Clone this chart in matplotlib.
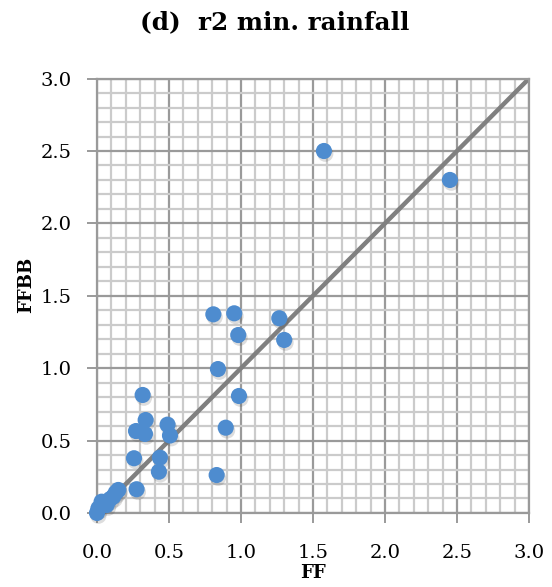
import numpy as np
import matplotlib
matplotlib.use("Agg")
import matplotlib.pyplot as plt
import matplotlib.patheffects as pe

# FF vs FFBB, r2 min. rainfall
ff = [1.576, 2.451, 0.808, 0.953, 0.981, 1.266, 1.300, 0.840, 0.986, 0.317,
      0.894, 0.831, 0.338, 0.271, 0.333, 0.490, 0.507, 0.257, 0.437, 0.430,
      0.275, 0.148, 0.113, 0.067, 0.032, 0.010, 0.000, 0.090, 0.130]
ffbb = [2.500, 2.300, 1.372, 1.379, 1.229, 1.345, 1.195, 0.994, 0.808, 0.815,
        0.589, 0.262, 0.642, 0.566, 0.546, 0.610, 0.535, 0.378, 0.382, 0.285,
        0.164, 0.159, 0.113, 0.055, 0.078, 0.032, 0.000, 0.095, 0.140]
title = "(d)  r2 min. rainfall"
xlabel = "FF"
ylabel = "FFBB"

plt.rcParams['font.family'] = ['DejaVu Serif']

fig = plt.figure(figsize=(5.52, 5.87), dpi=100)
ax = fig.add_axes([0.1757, 0.1261, 0.7826, 0.740])

ax.set_xlim(0, 3)
ax.set_ylim(0, 3)
ax.set_xticks(np.arange(0, 3.01, 0.5))
ax.set_yticks(np.arange(0, 3.01, 0.5))
ax.set_xticks(np.arange(0, 3.01, 0.1), minor=True)
ax.set_yticks(np.arange(0, 3.01, 0.1), minor=True)
ax.set_xticklabels(["%.1f" % v for v in np.arange(0, 3.01, 0.5)])
ax.set_yticklabels(["%.1f" % v for v in np.arange(0, 3.01, 0.5)])

ax.grid(which="minor", color="#cbcbcb", linewidth=1.6)
ax.grid(which="major", color="#9a9a9a", linewidth=1.6)
ax.set_axisbelow(True)

for s in ax.spines.values():
    s.set_color("#9a9a9a")
    s.set_linewidth(1.6)

ax.tick_params(which="major", direction="out", length=7.5, width=1.4,
               color="#9a9a9a", labelsize=14)
ax.tick_params(axis="x", pad=15)
ax.tick_params(axis="y", pad=11)
ax.tick_params(which="minor", length=0)

# 1:1 line
ax.plot([0, 3], [0, 3], color="#808080", linewidth=3.2, zorder=2,
        solid_capstyle="butt")

ax.scatter(ff, ffbb, s=135, color="#4e8ccf", edgecolors="none", zorder=3,
           path_effects=[pe.SimplePatchShadow(offset=(1.0, -2.0),
                                              shadow_rgbFace="#444444",
                                              alpha=0.18),
                         pe.Normal()],
           clip_on=False)

ax.set_xlabel(xlabel, fontsize=13, fontweight="bold")
ax.xaxis.set_label_coords(0.5, -0.138)
ax.xaxis.label.set_va("center")
ax.set_ylabel(ylabel, fontsize=13, fontweight="bold")
ax.yaxis.set_label_coords(-0.164, 0.525)
ax.yaxis.label.set_va("center")
fig.suptitle(title, fontsize=17.7, fontweight="bold", y=0.982, x=0.498)

fig.savefig("out.png", dpi=100)
